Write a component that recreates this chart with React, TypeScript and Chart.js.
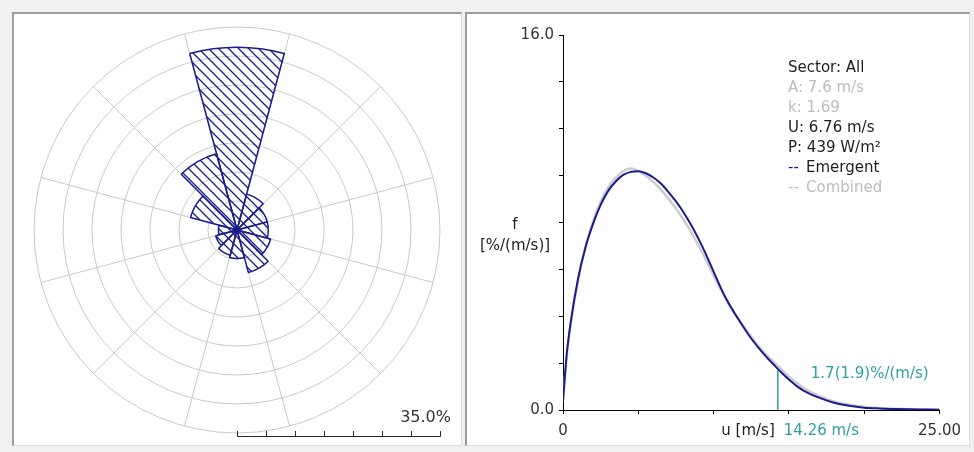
import React, { useEffect, useRef } from "react";
import { Chart, registerables } from "chart.js";

Chart.register(...registerables);

// ---------- Wind rose data ----------
const directions = ["N", "NNE", "ENE", "E", "ESE", "SSE", "S", "SSW", "WSW", "W", "WNW", "NNW"];
const sectorFrequency = [31.5, 6.4, 5.4, 5.4, 6.0, 7.6, 4.9, 4.5, 3.8, 3.2, 8.3, 13.6];
const roseTicks = [0, 5, 10, 15, 20, 25, 30, 35];
const roseScaleLabel = "35.0%";

// ---------- Weibull distribution data ----------
const windSpeeds = [0, 0.25, 0.5, 1, 1.5, 2, 2.5, 3, 3.5, 4, 4.5, 5, 5.5, 6, 6.5, 7, 7.5, 8, 8.5, 9, 9.5, 10, 10.5, 11, 11.5, 12, 12.5, 13, 13.5, 14, 14.5, 15, 15.5, 16, 17, 18, 19, 20, 21, 22, 23, 24, 25];
const emergentFreq = [0.4, 2.4, 3.7, 5.6, 6.95, 7.95, 8.75, 9.35, 9.75, 10.03, 10.16, 10.19, 10.1, 9.92, 9.66, 9.3, 8.9, 8.44, 7.9, 7.3, 6.63, 5.9, 5.18, 4.55, 4.02, 3.52, 3.05, 2.64, 2.27, 1.93, 1.6, 1.3, 1.03, 0.82, 0.53, 0.31, 0.18, 0.1, 0.065, 0.045, 0.03, 0.02, 0.01];
const combinedFreq = [0.4, 2.3, 3.6, 5.55, 7.0, 8.05, 8.9, 9.5, 9.9, 10.2, 10.3, 10.2, 10.0, 9.72, 9.4, 9.02, 8.6, 8.12, 7.6, 7.02, 6.4, 5.74, 5.1, 4.52, 4.02, 3.56, 3.12, 2.72, 2.36, 2.04, 1.73, 1.43, 1.16, 0.93, 0.6, 0.37, 0.22, 0.13, 0.08, 0.05, 0.03, 0.02, 0.01];
const yLabeledTicks = [0, 16];
const yTickText = ["0.0", "16.0"];
const xLabeledTicks = [0, 25];
const xTickText = ["0", "25.00"];
const markerSpeed = 14.26;
const markerEmergent = 1.7;
const markerCombined = 1.9;
const legendLines = ["Sector: All", "A: 7.6 m/s", "k: 1.69", "U: 6.76 m/s", "P: 439 W/m\u00B2", "Emergent", "Combined"];

const NAVY = "#1b1b8c";
const GRAY_LINE = "#cdcdcd";
const LIGHT_TEXT = "#bdbdbd";
const DARK_TEXT = "#1e1e1e";
const TEAL = "#2f9fa3";
const FONT = "15px 'DejaVu Sans'";

function makeHatch(): CanvasPattern | string {
  const tile = document.createElement("canvas");
  tile.width = 10;
  tile.height = 10;
  const c = tile.getContext("2d");
  if (!c) return "transparent";
  c.strokeStyle = NAVY;
  c.lineWidth = 1.3;
  c.beginPath();
  c.moveTo(-1, -1);
  c.lineTo(11, 11);
  c.moveTo(-1, 9);
  c.lineTo(1, 11);
  c.moveTo(9, -1);
  c.lineTo(11, 1);
  c.stroke();
  const p = c.createPattern(tile, "repeat");
  return p || "transparent";
}

const roseScaleBar = {
  id: "roseScaleBar",
  afterDraw(chart: any) {
    const r = chart.scales.r;
    const ctx = chart.ctx;
    const cx = r.xCenter;
    const by = r.yCenter + r.drawingArea + 3;
    ctx.save();
    ctx.strokeStyle = "#2a2a2a";
    ctx.lineWidth = 1;
    const end = cx + r.getDistanceFromCenterForValue(roseTicks[roseTicks.length - 1]);
    ctx.beginPath();
    ctx.moveTo(Math.round(cx) + 0.5, by + 0.5);
    ctx.lineTo(Math.round(end) + 0.5, by + 0.5);
    roseTicks.forEach((v) => {
      const px = Math.round(cx + r.getDistanceFromCenterForValue(v)) + 0.5;
      ctx.moveTo(px, by + 0.5);
      ctx.lineTo(px, by - 5);
    });
    ctx.stroke();
    ctx.font = "16px 'DejaVu Sans'";
    ctx.fillStyle = "#333";
    ctx.textAlign = "right";
    ctx.textBaseline = "middle";
    ctx.fillText(roseScaleLabel, end + 11, by - 18);
    ctx.restore();
  },
};

const weibullAnnotations = {
  id: "weibullAnnotations",
  afterDraw(chart: any) {
    const ctx = chart.ctx;
    const x = chart.scales.x;
    const y = chart.scales.y;
    const area = chart.chartArea;
    ctx.save();
    ctx.font = FONT;
    ctx.textBaseline = "middle";

    // y-axis title
    ctx.fillStyle = DARK_TEXT;
    ctx.textAlign = "center";
    const ty = y.getPixelForValue(7.9);
    ctx.fillText("f", area.left - 48, ty);
    ctx.fillText("[%/(m/s)]", area.left - 48, ty + 21);

    // marker line
    const mx = x.getPixelForValue(markerSpeed);
    const top = y.getPixelForValue(markerEmergent);
    ctx.strokeStyle = TEAL;
    ctx.lineWidth = 1.5;
    ctx.beginPath();
    ctx.moveTo(mx, y.getPixelForValue(0));
    ctx.lineTo(mx, top);
    ctx.stroke();

    // x title and marker speed
    const ly = area.bottom + 21;
    ctx.textAlign = "right";
    ctx.fillStyle = DARK_TEXT;
    ctx.fillText("u [m/s]", mx - 3, ly);
    ctx.textAlign = "left";
    ctx.fillStyle = TEAL;
    ctx.fillText(markerSpeed.toFixed(2) + " m/s", mx + 6, ly);
    ctx.fillText(
      markerEmergent.toFixed(1) + "(" + markerCombined.toFixed(1) + ")%/(m/s)",
      mx + 33,
      top + 4
    );

    // legend / info block
    const lx = area.left + 225;
    const l0 = area.top + 33;
    const colors = [DARK_TEXT, LIGHT_TEXT, LIGHT_TEXT, DARK_TEXT, DARK_TEXT];
    for (let i = 0; i < 5; i++) {
      ctx.fillStyle = colors[i];
      ctx.fillText(legendLines[i], lx, l0 + i * 20);
    }
    ctx.fillStyle = NAVY;
    ctx.fillText("--", lx, l0 + 5 * 20);
    ctx.fillStyle = DARK_TEXT;
    ctx.fillText(legendLines[5], lx + 18, l0 + 5 * 20);
    ctx.fillStyle = LIGHT_TEXT;
    ctx.fillText("--", lx, l0 + 6 * 20);
    ctx.fillText(legendLines[6], lx + 18, l0 + 6 * 20);
    ctx.restore();
  },
};

export default function App() {
  const roseRef = useRef<HTMLCanvasElement>(null);
  const distRef = useRef<HTMLCanvasElement>(null);

  useEffect(() => {
    document.body.style.margin = "0";
    const charts: Chart[] = [];
    if (roseRef.current) {
      charts.push(
        new Chart(roseRef.current, {
          type: "polarArea",
          data: {
            labels: directions,
            datasets: [
              {
                data: sectorFrequency,
                backgroundColor: makeHatch() as any,
                borderColor: NAVY,
                borderWidth: 1.5,
              },
            ],
          },
          options: {
            animation: false,
            responsive: false,
            events: [],
            layout: { padding: { left: 20, right: 20, top: 13, bottom: 12 } },
            plugins: { legend: { display: false }, tooltip: { enabled: false } },
            scales: {
              r: {
                min: 0,
                max: 35,
                startAngle: -15,
                ticks: { display: false, stepSize: 5 },
                grid: { color: "#c9c9c9", circular: true, lineWidth: 1 },
                angleLines: { display: true, color: "#c9c9c9", lineWidth: 1 },
                pointLabels: { display: false },
              },
            },
          } as any,
          plugins: [roseScaleBar],
        })
      );
    }
    if (distRef.current) {
      const pts = (vals: number[]) => windSpeeds.map((u, i) => ({ x: u, y: vals[i] }));
      charts.push(
        new Chart(distRef.current, {
          type: "line",
          data: {
            datasets: [
              {
                label: "Emergent",
                data: pts(emergentFreq),
                borderColor: NAVY,
                borderWidth: 2,
                pointRadius: 0,
                cubicInterpolationMode: "monotone",
                fill: false,
              },
              {
                label: "Combined",
                data: pts(combinedFreq),
                borderColor: GRAY_LINE,
                borderWidth: 2.5,
                pointRadius: 0,
                cubicInterpolationMode: "monotone",
                fill: false,
              },
            ],
          },
          options: {
            animation: false,
            responsive: false,
            events: [],
            layout: { padding: { left: 0, right: 26, top: 21, bottom: 0 } },
            plugins: { legend: { display: false }, tooltip: { enabled: false } },
            scales: {
              x: {
                type: "linear",
                min: 0,
                max: 25,
                afterFit: (s: any) => {
                  s.height = 35;
                },
                border: { display: true, color: "#000", width: 1 },
                grid: { display: true, drawOnChartArea: false, drawTicks: true, tickLength: 4, color: "#000" },
                ticks: {
                  stepSize: 5,
                  autoSkip: false,
                  maxRotation: 0,
                  padding: 8,
                  color: "#333",
                  font: { family: "'DejaVu Sans'", size: 15 },
                  callback: (v: any) => {
                    const i = xLabeledTicks.indexOf(Number(v));
                    return i >= 0 ? xTickText[i] : "";
                  },
                },
              },
              y: {
                min: 0,
                max: 16,
                afterFit: (s: any) => {
                  s.width = 96;
                },
                border: { display: true, color: "#000", width: 1 },
                grid: { display: true, drawOnChartArea: false, drawTicks: true, tickLength: 4, color: "#000" },
                ticks: {
                  stepSize: 2,
                  autoSkip: false,
                  padding: 5,
                  color: "#333",
                  font: { family: "'DejaVu Sans'", size: 15 },
                  callback: (v: any) => {
                    const i = yLabeledTicks.indexOf(Number(v));
                    return i >= 0 ? yTickText[i] : "";
                  },
                },
              },
            },
          } as any,
          plugins: [weibullAnnotations],
        })
      );
    }
    return () => charts.forEach((c) => c.destroy());
  }, []);

  const panelBase: React.CSSProperties = {
    position: "absolute",
    boxSizing: "border-box",
    background: "#ffffff",
    borderTop: "2px solid #9c9c9c",
    borderLeft: "2px solid #9c9c9c",
    borderRight: "1px solid #dddddd",
    borderBottom: "1px solid #dddddd",
  };

  return (
    <div
      style={{
        position: "absolute",
        left: 0,
        top: 0,
        width: 974,
        height: 452,
        background: "#f0f0f0",
        overflow: "hidden",
      }}
    >
      <div style={{ ...panelBase, left: 12, top: 12, width: 450, height: 434 }} />
      <div style={{ ...panelBase, left: 465, top: 12, width: 505, height: 434 }} />
      <canvas
        ref={roseRef}
        width={446}
        height={431}
        style={{ position: "absolute", left: 14, top: 14, width: 446, height: 431 }}
      />
      <canvas
        ref={distRef}
        width={502}
        height={431}
        style={{ position: "absolute", left: 467, top: 14, width: 502, height: 431 }}
      />
    </div>
  );
}
